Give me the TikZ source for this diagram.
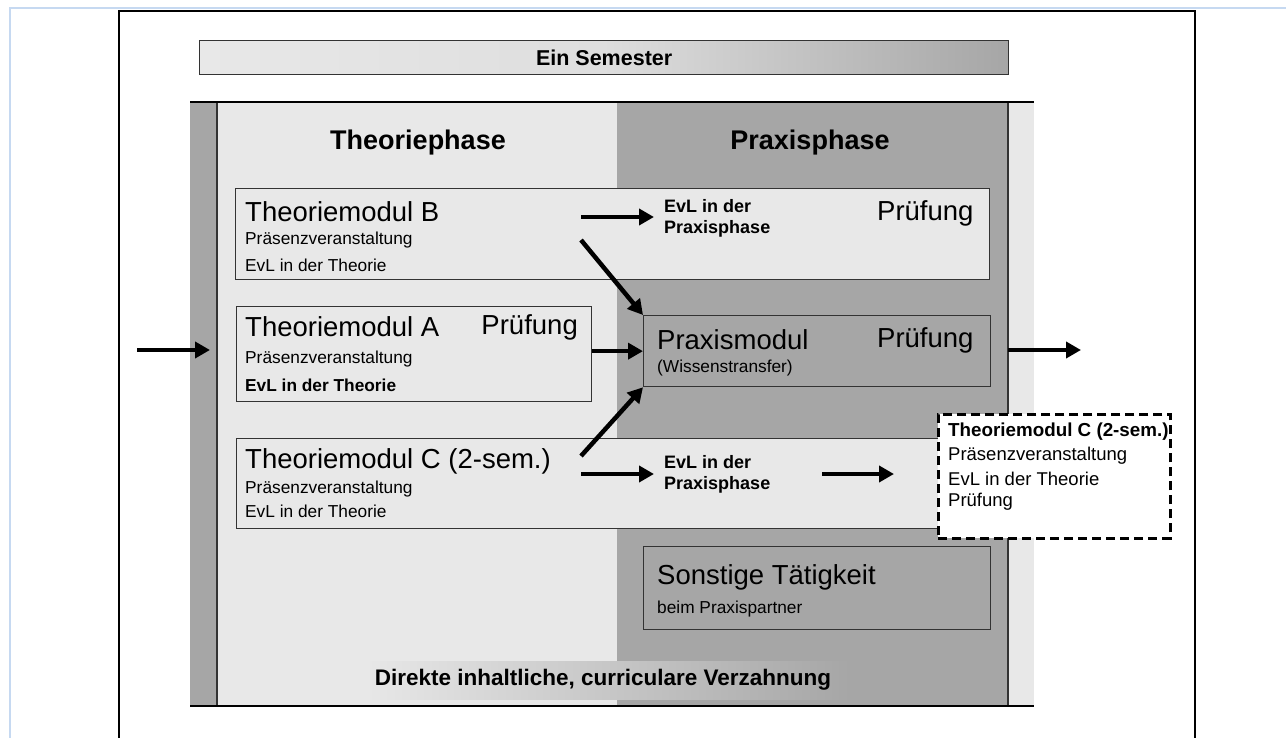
\documentclass[tikz,border=0pt]{standalone}
\usepackage{fontspec}
\setmainfont{Liberation Sans}
\usepackage{tikz}
\usetikzlibrary{arrows.meta}

\definecolor{lightgr}{HTML}{E8E8E8}
\definecolor{darkgr}{HTML}{A6A6A6}
\definecolor{boxline}{HTML}{333333}
\definecolor{framebl}{HTML}{C6D9F1}

\newcommand{\modfont}{\fontsize{27.5}{30}\selectfont}
\newcommand{\subfont}{\fontsize{17.3}{20}\selectfont}
\newcommand{\headfont}{\fontsize{27}{30}\selectfont\bfseries}
\newcommand{\evlfont}{\fontsize{18}{21}\selectfont\bfseries}
\newcommand{\barfont}{\fontsize{21.5}{24}\selectfont\bfseries}
\newcommand{\dashfont}{\fontsize{18.5}{23}\selectfont}

\begin{document}
\begin{tikzpicture}[x=1pt, y=-1pt,
    modbox/.style={draw=boxline, line width=1.3pt, fill=lightgr, inner sep=0pt, anchor=north west},
    pbox/.style={modbox, fill=darkgr},
    dashbox/.style={draw=black, line width=2.5pt, dash pattern=on 9pt off 5pt, fill=white, inner sep=0pt, anchor=north west},
    txt/.style={anchor=west, inner sep=0pt},
    bigarr/.style={line width=4.5pt, -{Triangle[length=15pt,width=16pt]}}]
    \useasboundingbox (0,0) rectangle (1286,738);

    % page frames
    \draw[framebl, line width=2.5pt] (10,738) -- (10,8) -- (1286,8);
    \draw[line width=1.4pt] (119,738) -- (119,11) -- (1195,11) -- (1195,738);

    % semester bar
    \node[modbox, left color=lightgr, right color=darkgr, middle color=black!13,
          minimum width=809, minimum height=34] (sem) at (199,40) {};
    \node[font=\barfont] (semlbl) at (sem) {Ein Semester};

    % phase areas
    \fill[darkgr] (190,102) rectangle (217,706);
    \fill[lightgr] (217,102) rectangle (617,706);
    \fill[darkgr] (617,102) rectangle (1008,706);
    \fill[lightgr] (1008,102) rectangle (1034,706);
    \draw[boxline, line width=1.2pt] (217,102) -- (217,706);
    \draw[boxline, line width=1.2pt] (1008,102) -- (1008,706);
    \draw[line width=1.6pt] (190,102) -- (1034,102);
    \draw[line width=1.6pt] (190,706) -- (1034,706);
    \shade[left color=black!9.5, right color=darkgr] (370,661) rectangle (850,699);

    \node[font=\headfont] (thph) at (418,143) {Theoriephase};
    \node[font=\headfont] (prph) at (810,143) {Praxisphase};
    \node[font=\fontsize{22.5}{24}\selectfont\bfseries] (verz) at (603,680) {Direkte inhaltliche, curriculare Verzahnung};

    % boxes
    \node[modbox, minimum width=754, minimum height=91] (modB) at (235,188) {};
    \node[modbox, minimum width=355, minimum height=95] (modA) at (236,306) {};
    \node[modbox, minimum width=753, minimum height=90] (modC) at (236,438) {};
    \node[pbox, minimum width=347, minimum height=71] (pm) at (643,315) {};
    \node[pbox, minimum width=347, minimum height=83] (sonst) at (643,546) {};
    \node[dashbox, minimum width=232, minimum height=124] (modCn) at (937,413) {};

    % Theoriemodul B
    \node[txt, font=\modfont] (tB) at (245,212) {Theoriemodul B};
    \node[txt, font=\subfont] (tBp) at (245,240) {Präsenzveranstaltung};
    \node[txt, font=\subfont] (tBe) at (245,265) {EvL in der Theorie};
    \node[txt, font=\evlfont, align=left] (evlB) at (664,218) {EvL in der\\Praxisphase};
    \node[txt, font=\modfont] (prB) at (877,213) {Prüfung};

    % Theoriemodul A
    \node[txt, font=\modfont] (tA) at (245,327) {Theoriemodul A};
    \node[txt, font=\modfont, anchor=east] (prA) at (578,327) {Prüfung};
    \node[txt, font=\subfont] (tAp) at (245,359) {Präsenzveranstaltung};
    \node[txt, font=\subfont\bfseries] (tAe) at (245,385) {EvL in der Theorie};

    % Praxismodul
    \node[txt, font=\modfont] (tpm) at (657,340) {Praxismodul};
    \node[txt, font=\modfont] (prpm) at (877,340) {Prüfung};
    \node[txt, font=\subfont] (tpmw) at (657,368) {(Wissenstransfer)};

    % Theoriemodul C
    \node[txt, font=\modfont] (tC) at (245,461) {Theoriemodul C (2-sem.)};
    \node[txt, font=\subfont] (tCp) at (245,489) {Präsenzveranstaltung};
    \node[txt, font=\subfont] (tCe) at (245,511) {EvL in der Theorie};
    \node[txt, font=\evlfont, align=left] (evlC) at (664,474) {EvL in der\\Praxisphase};

    % Theoriemodul C, next semester
    \node[txt, font=\fontsize{18.8}{20}\selectfont\bfseries] (tCn) at (948,432) {Theoriemodul C (2-sem.)};
    \node[txt, font=\dashfont] (tCnp) at (948,456) {Präsenzveranstaltung};
    \node[txt, font=\dashfont] (tCne) at (948,479) {EvL in der Theorie};
    \node[txt, font=\dashfont] (tCnr) at (948,502) {Prüfung};

    % Sonstige
    \node[txt, font=\modfont] (tS) at (657,577) {Sonstige Tätigkeit};
    \node[txt, font=\subfont] (tSp) at (657,609) {beim Praxispartner};

    % arrows
    \coordinate (inS) at (137,350);
    \coordinate (inE) at (210,350);
    \coordinate (outS) at (1008,350);
    \coordinate (outE) at (1081,350);
    \coordinate (bS) at (581,217);
    \coordinate (bD) at (581,240);
    \coordinate (cU) at (581,456);
    \coordinate (cS) at (581,474);
    \coordinate (cT) at (822,474);
    \coordinate (cE) at (894,474);

    \draw[bigarr] (inS) -- (inE);
    \draw[bigarr] (outS) -- (outE);
    \draw[bigarr, shorten >=10pt] (bS) -- (evlB.west |- bS);
    \draw[bigarr] (bD) -- (pm.north west);
    \draw[bigarr] (pm.west -| modA.east) -- (pm.west);
    \draw[bigarr] (cU) -- (pm.south west);
    \draw[bigarr, shorten >=10pt] (cS) -- (evlC.west |- cS);
    \draw[bigarr] (cT) -- (cE);
\end{tikzpicture}
\end{document}
